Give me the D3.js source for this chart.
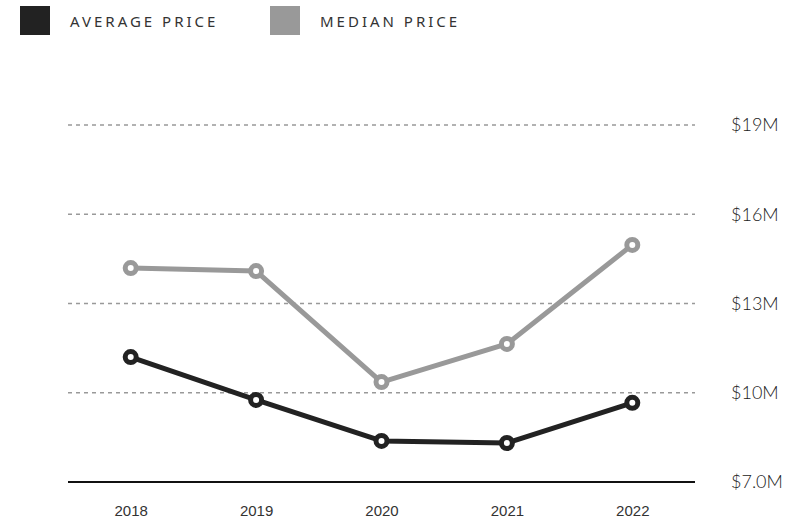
<!DOCTYPE html>
<html>
<head>
<meta charset="utf-8">
<script src="https://cdn.jsdelivr.net/npm/d3@7"></script>
<style>
  body { margin: 0; background: #fff; }
</style>
</head>
<body>
<div class="main"></div>
<script>
const years = ['2018', '2019', '2020', '2021', '2022'];
const averagePrice = [11.2, 9.76, 8.38, 8.31, 9.66];
const medianPrice = [14.19, 14.09, 10.36, 11.64, 14.97];
const yTicks = [7, 10, 13, 16, 19];
const seriesNames = ['AVERAGE PRICE', 'MEDIAN PRICE'];
const seriesColors = ['#222222', '#999999'];

let width = 806, height = 523;

let svg = d3.select('.main').append('svg')
  .attr('width', width)
  .attr('height', height);

let x = d3.scalePoint().domain(years).range([68, 695]).padding(0.5);
let y = d3.scaleLinear().domain([7, 19]).range([482, 125]);

// gridlines
svg.append('g').selectAll('line')
  .data(yTicks.filter(d => d !== 7))
  .enter().append('line')
  .attr('x1', 68).attr('x2', 695)
  .attr('y1', d => y(d)).attr('y2', d => y(d))
  .attr('stroke', '#999')
  .attr('stroke-width', 1.3)
  .attr('stroke-dasharray', '4,4');

// baseline
svg.append('line')
  .attr('x1', 68).attr('x2', 695)
  .attr('y1', y(7)).attr('y2', y(7))
  .attr('stroke', '#111')
  .attr('stroke-width', 2);

// y labels on the right
let yAxis = d3.axisRight(y).tickValues(yTicks).tickSize(0).tickPadding(0)
  .tickFormat(d => d === 7 ? '$7.0M' : '$' + d + 'M');
let yg = svg.append('g').attr('transform', 'translate(731,0)').call(yAxis);
yg.select('.domain').remove();
yg.selectAll('text')
  .style('font-size', '18px').style('font-weight', 300).style('fill', '#222')
  .style('font-family', 'Lato, sans-serif');

// x labels
let xAxis = d3.axisBottom(x).tickSize(0).tickPadding(0);
let xg = svg.append('g').attr('transform', 'translate(0,505)').call(xAxis);
xg.select('.domain').remove();
xg.selectAll('text')
  .style('font-size', '15px').style('font-weight', 'normal').style('fill', '#333')
  .style('font-family', '"Liberation Sans", Arial, sans-serif');

let line = d3.line().x((d, i) => x(years[i])).y(d => y(d));

[medianPrice, averagePrice].forEach((vals, k) => {
  let color = k === 0 ? seriesColors[1] : seriesColors[0];
  svg.append('path')
    .datum(vals)
    .attr('d', line)
    .attr('fill', 'none')
    .attr('stroke', color)
    .attr('stroke-width', 5)
    .attr('stroke-linejoin', 'round');
  svg.append('g').selectAll('circle')
    .data(vals)
    .enter().append('circle')
    .attr('cx', (d, i) => x(years[i]))
    .attr('cy', d => y(d))
    .attr('r', 5.5)
    .attr('fill', '#fff')
    .attr('stroke', color)
    .attr('stroke-width', 5);
});

// legend
let legendX = [20, 270];
let lg = svg.append('g').selectAll('g')
  .data(seriesNames)
  .enter().append('g')
  .attr('transform', (d, i) => 'translate(' + legendX[i] + ',6)');
lg.append('rect')
  .attr('width', 30).attr('height', 29)
  .attr('fill', (d, i) => seriesColors[i]);
lg.append('text')
  .attr('x', 50).attr('y', 21)
  .style('font-family', '"Noto Sans", sans-serif')
  .style('font-size', '15px')
  .style('letter-spacing', '3px')
  .style('fill', '#333')
  .text(d => d);
</script>
</body>
</html>
